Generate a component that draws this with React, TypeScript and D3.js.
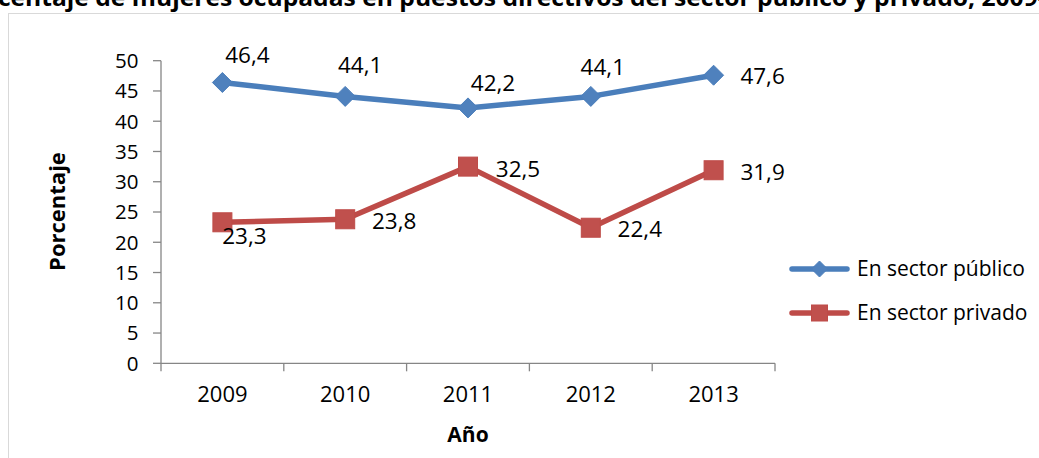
import React from "react";
import { scaleBand, scaleLinear, line, formatLocale } from "d3";

const years = ["2009", "2010", "2011", "2012", "2013"];
const publicValues = [46.4, 44.1, 42.2, 44.1, 47.6];
const privateValues = [23.3, 23.8, 32.5, 22.4, 31.9];
const yTicks = [0, 5, 10, 15, 20, 25, 30, 35, 40, 45, 50];
const seriesNames = ["En sector público", "En sector privado"];
const titleText =
  "Porcentaje de mujeres ocupadas en puestos directivos del sector público y privado, 2009-2013";

// label offsets from the marker centre (layout only)
const publicLabelOffsets = [[25, -28], [15, -31], [25, -25], [12, -29], [49, 1]];
const privateLabelOffsets = [[22, 14], [49, 2], [50, 2], [49, 1], [49, 2]];

const W = 1039;
const H = 458;
const FONT = "'Open Sans', 'Noto Sans', sans-serif";
const BLUE_LINE = "#4A7EBB";
const BLUE = "#4F81BD";
const RED_LINE = "#BE4B48";
const RED = "#C0504D";
const AXIS = "#868686";

const fmt = formatLocale({ decimal: ",", thousands: ".", grouping: [3], currency: ["", "€"] }).format(".1f");

export default function App() {
  const x = scaleBand<string>().domain(years).range([161, 775]);
  const y = scaleLinear().domain([0, 50]).range([363.3, 60.7]);
  const cx = (d: string) => (x(d) ?? 0) + x.bandwidth() / 2;

  const path = line<number>()
    .x((_, i) => cx(years[i]))
    .y((v) => y(v));

  const labelSize = 22.5;
  const diamond = (px: number, py: number, r: number) =>
    `M${px},${py - r}L${px + r},${py}L${px},${py + r}L${px - r},${py}Z`;

  return (
    <svg width={W} height={H} style={{ position: "absolute", left: 0, top: 0, background: "#fff" }} fontFamily={FONT}>
      {/* chart frame, runs past the picture edges */}
      <rect x={8.5} y={13.5} width={1100} height={500} fill="#fff" stroke="#D9D9D9" strokeWidth={1} />

      {/* title, clipped by the page like the original */}
      <text x={-44} y={5.5} fontWeight="bold" fontSize={23} textLength={1146} lengthAdjust="spacingAndGlyphs" fill="#000">
        {titleText}
      </text>

      {/* y axis */}
      <line x1={161} x2={161} y1={y(50)} y2={y(0)} stroke={AXIS} strokeWidth={1.3} />
      {yTicks.map((t) => (
        <g key={`yt-${t}`}>
          <line x1={153} x2={161} y1={y(t)} y2={y(t)} stroke={AXIS} strokeWidth={1.3} />
          <text x={138.5} y={y(t) + 0.357 * 20.5} textAnchor="end" fontSize={20.5} fill="#000">
            {t}
          </text>
        </g>
      ))}

      {/* x axis */}
      <line x1={161} x2={775} y1={y(0)} y2={y(0)} stroke={AXIS} strokeWidth={1.3} />
      {[...years.map((d) => x(d) ?? 0), 775].map((px, i) => (
        <line key={`xt-${i}`} x1={px} x2={px} y1={y(0)} y2={y(0) + 8} stroke={AXIS} strokeWidth={1.3} />
      ))}
      {years.map((d) => (
        <text key={`xl-${d}`} x={cx(d)} y={394 + 0.357 * 22} textAnchor="middle" fontSize={22} fill="#000">
          {d}
        </text>
      ))}

      {/* axis titles */}
      <text
        transform="translate(65,211.5) rotate(-90)"
        textAnchor="middle"
        fontWeight="bold"
        fontSize={22}
        fill="#000"
      >
        Porcentaje
      </text>
      <text x={468} y={442} textAnchor="middle" fontWeight="bold" fontSize={21} fill="#000">
        Año
      </text>

      {/* series lines */}
      <path d={path(publicValues) ?? ""} fill="none" stroke={BLUE_LINE} strokeWidth={5.5} strokeLinejoin="round" strokeLinecap="round" />
      <path d={path(privateValues) ?? ""} fill="none" stroke={RED_LINE} strokeWidth={5.5} strokeLinejoin="round" strokeLinecap="round" />

      {/* markers */}
      {publicValues.map((v, i) => (
        <path key={`pm-${i}`} d={diamond(cx(years[i]), y(v), 10)} fill={BLUE} stroke={BLUE_LINE} strokeWidth={1} />
      ))}
      {privateValues.map((v, i) => (
        <rect key={`rm-${i}`} x={cx(years[i]) - 9.5} y={y(v) - 9.5} width={19} height={19} fill={RED} stroke={RED_LINE} strokeWidth={1} />
      ))}

      {/* data labels */}
      {publicValues.map((v, i) => (
        <text
          key={`pl-${i}`}
          x={cx(years[i]) + publicLabelOffsets[i][0]}
          y={y(v) + publicLabelOffsets[i][1] + 0.357 * labelSize}
          textAnchor="middle"
          fontSize={labelSize}
          fill="#000"
        >
          {fmt(v)}
        </text>
      ))}
      {privateValues.map((v, i) => (
        <text
          key={`rl-${i}`}
          x={cx(years[i]) + privateLabelOffsets[i][0]}
          y={y(v) + privateLabelOffsets[i][1] + 0.357 * labelSize}
          textAnchor="middle"
          fontSize={labelSize}
          fill="#000"
        >
          {fmt(v)}
        </text>
      ))}

      {/* legend */}
      {seriesNames.map((name, i) => {
        const ly = 269 + i * 44;
        const color = i === 0 ? BLUE : RED;
        const lineColor = i === 0 ? BLUE_LINE : RED_LINE;
        return (
          <g key={`lg-${i}`}>
            <line x1={792} x2={847} y1={ly} y2={ly} stroke={lineColor} strokeWidth={5.5} strokeLinecap="round" />
            {i === 0 ? (
              <path d={diamond(819.5, ly, 8)} fill={color} stroke={lineColor} strokeWidth={1} />
            ) : (
              <rect x={811.5} y={ly - 8} width={16} height={16} fill={color} stroke={lineColor} strokeWidth={1} />
            )}
            <text x={857} y={ly + 0.357 * 21} fontSize={21} fill="#000">
              {name}
            </text>
          </g>
        );
      })}
    </svg>
  );
}
